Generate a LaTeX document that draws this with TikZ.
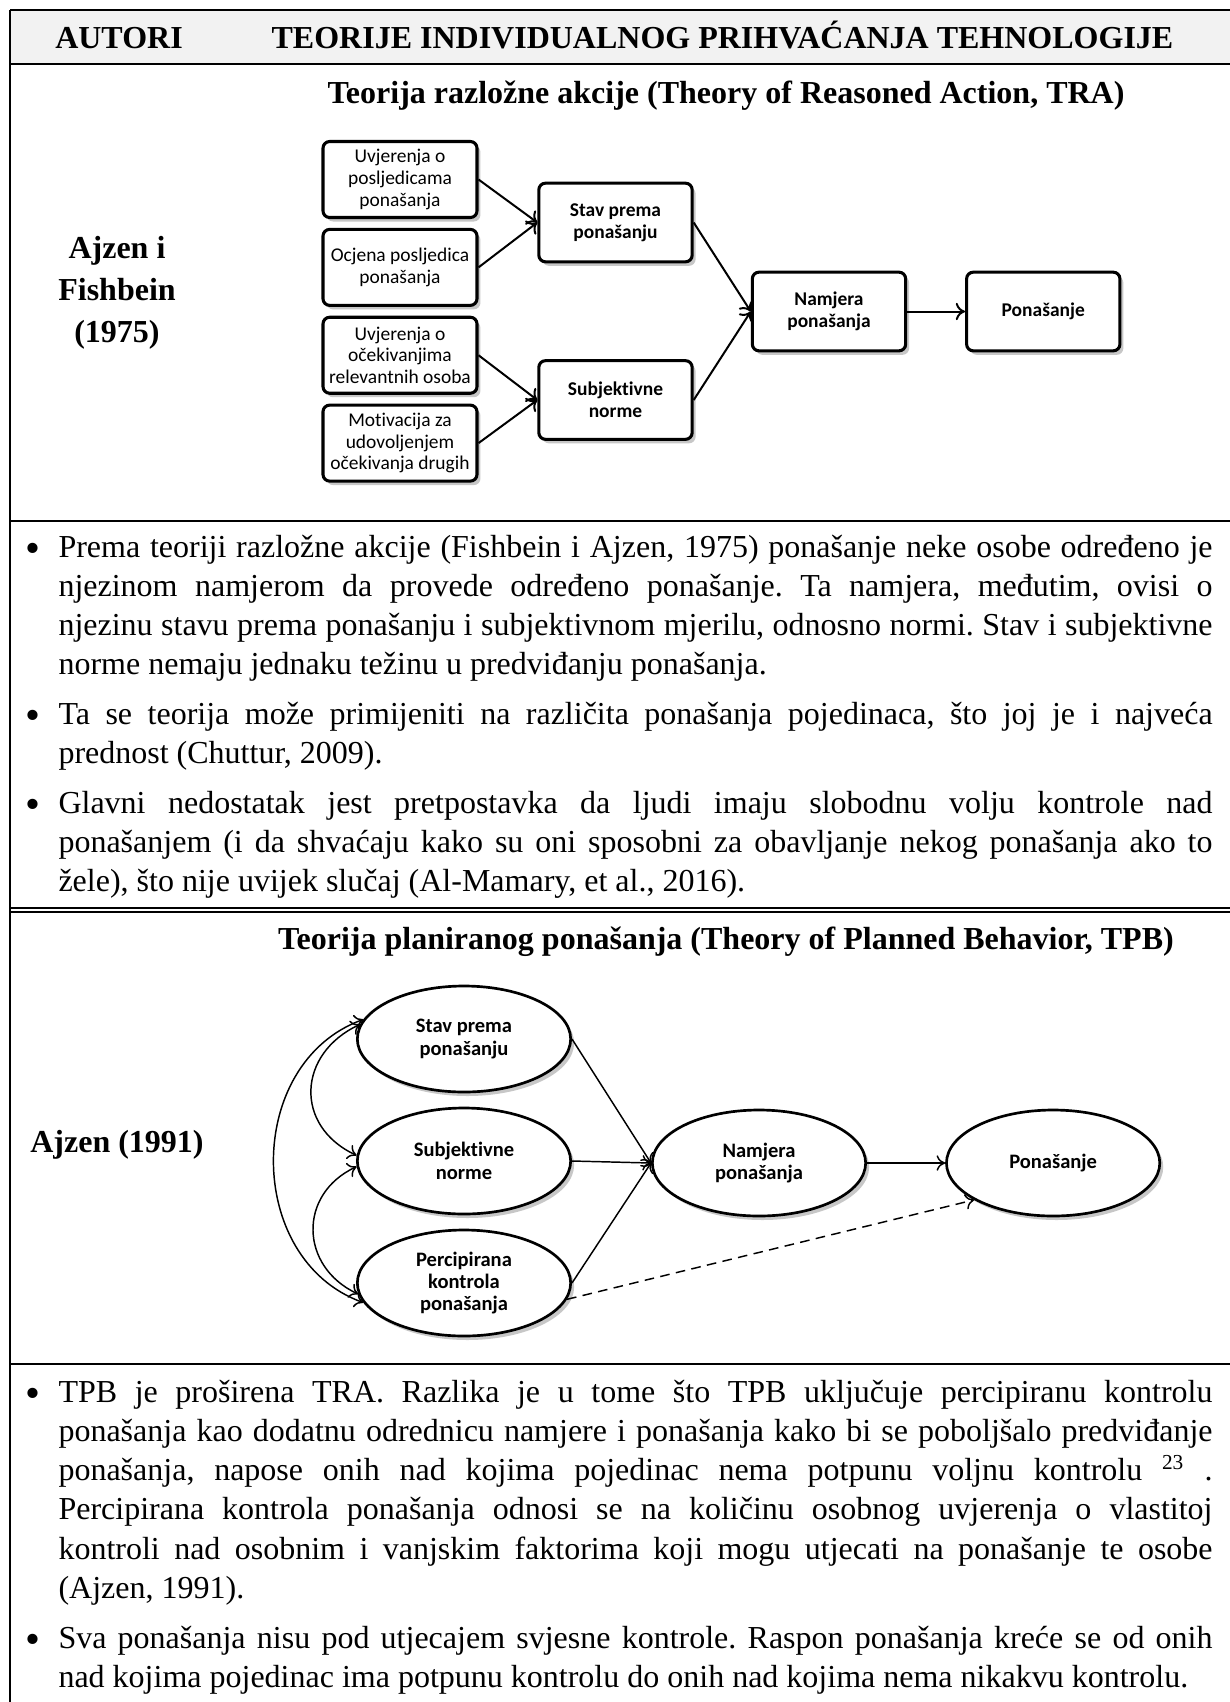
\documentclass[tikz,border=0pt]{standalone}
\usepackage{fontspec}
\setmainfont{Liberation Serif}
\newfontfamily\diagfont[Ligatures=NoCommon]{Carlito}
\frenchspacing
\usetikzlibrary{positioning,shapes.geometric,shadows,arrows.meta}
\definecolor{headgray}{HTML}{F2F2F2}
\tikzset{softshadow/.style={drop shadow={shadow xshift=1.3pt,shadow yshift=-1.5pt,fill=black,opacity=0.22}},
  trabox/.style={draw,line width=1.15pt,rounded corners=2.5pt,fill=white,minimum width=57.75pt,minimum height=28.5pt,inner sep=1pt,align=center,font=\diagfont\fontsize{7.3}{8.1}\selectfont,softshadow},
  trabold/.style={trabox,minimum width=57.5pt,minimum height=29.5pt,font=\diagfont\bfseries\fontsize{7.3}{8.1}\selectfont},
  tpbell/.style={ellipse,draw,line width=1pt,fill=white,minimum width=80pt,minimum height=39.75pt,inner sep=1pt,align=center,font=\diagfont\bfseries\fontsize{7.7}{8.4}\selectfont,softshadow},
  traarrow/.style={-{To[length=3.5pt,width=6.5pt]},line width=0.75pt},
  tpbarrow/.style={-{To[length=3.2pt,width=5.8pt]},line width=0.55pt},
  tpbboth/.style={{To[length=3.2pt,width=5.8pt]}-{To[length=3.2pt,width=5.8pt]},line width=0.55pt},
  bodytext/.style={anchor=base west,inner sep=0pt,text width=432.75pt,align=justify,font=\fontsize{12}{14.74}\selectfont},
  bulletmark/.style={anchor=base,inner sep=0pt,yshift=-2.2pt,font=\fontsize{16}{16}\selectfont},
  headtext/.style={anchor=base,inner sep=0pt,font=\bfseries\fontsize{12}{14}\selectfont},
  authtext/.style={inner sep=0pt,align=center,font=\bfseries\fontsize{12}{15.75}\selectfont}
}

\begin{document}
\begin{tikzpicture}[x=0.375pt,y=0.375pt]
  \useasboundingbox (0,0) rectangle (1230,-1702);

  % Table frame
  \fill[headgray] (10,-10) rectangle (1230,-64);
  \draw[line width=1.1pt] (10,-10) -- (1230,-10);
  \draw[line width=1.1pt] (10,-64) -- (1230,-64);
  \draw[line width=0.75pt] (10,-10) -- (10,-1702);
  \draw[line width=1.1pt] (10,-521) -- (1230,-521);
  \draw[line width=0.4pt] (10,-908) -- (1230,-908);
  \draw[line width=0.4pt] (10,-912) -- (1230,-912);
  \draw[line width=1.1pt] (10,-1364) -- (1230,-1364);

  % Header
  \node[headtext] (autori) at (119,-48) {AUTORI};
  \node[headtext] (teorije) at (722.5,-48) {TEORIJE INDIVIDUALNOG PRIHVAĆANJA TEHNOLOGIJE};

  % TRA
  \node[headtext] (tratitle) at (726,-103) {Teorija razložne akcije (Theory of Reasoned Action, TRA)};
  \node[authtext] (auth1) at (117,-293) {Ajzen i\\Fishbein\\(1975)};

    \node[trabox] (bel1) at (400,-179.5) {Uvjerenja o\\posljedicama\\ponašanja};
    \node[trabox, below = 3.3pt of bel1] (eval1) {Ocjena posljedica\\ponašanja};
    \node[trabox, below = 3.3pt of eval1] (bel2) {Uvjerenja o\\očekivanjima\\relevantnih osoba};
    \node[trabox, below = 3.3pt of bel2] (motiv) {Motivacija za\\udovoljenjem\\očekivanja drugih};

    \node[trabold] (att) at (615.5,-222.5) {Stav prema\\ponašanju};
    \node[trabold] (norm) at (615.5,-400) {Subjektivne\\norme};
    \node[trabold] (intent) at (829,-311.5) {Namjera\\ponašanja};
    \node[trabold, right = 21.7pt of intent] (behav) {Ponašanje};

    \draw[traarrow] (bel1.east) -- (att.west);
    \draw[traarrow] (eval1.east) -- (att.west);
    \draw[traarrow] (bel2.east) -- (norm.west);
    \draw[traarrow] (motiv.east) -- (norm.west);
    \draw[traarrow] (att.east) -- (intent.west);
    \draw[traarrow] (norm.east) -- (intent.west);
    \draw[traarrow] (intent.east) -- (behav.west);

  % TRA text
  \node[bulletmark] (dot1) at (33,-557) {•};
  \node[bodytext] (txt1) at (58,-557) {Prema teoriji razložne akcije (Fishbein i Ajzen, 1975) ponašanje neke osobe određeno je\linebreak njezinom namjerom da provede određeno ponašanje. Ta namjera, međutim, ovisi o\linebreak njezinu stavu prema ponašanju i subjektivnom mjerilu, odnosno normi. Stav i subjektivne\linebreak norme nemaju jednaku težinu u predviđanju ponašanja.};
  \node[bulletmark] (dot2) at (33,-724) {•};
  \node[bodytext] (txt2) at (58,-724) {Ta se teorija može primijeniti na različita ponašanja pojedinaca, što joj je i najveća\linebreak prednost (Chuttur, 2009).};
  \node[bulletmark] (dot3) at (33,-813) {•};
  \node[bodytext] (txt3) at (58,-813) {Glavni nedostatak jest pretpostavka da ljudi imaju slobodnu volju kontrole nad\linebreak ponašanjem (i da shvaćaju kako su oni sposobni za obavljanje nekog ponašanja ako to\linebreak žele), što nije uvijek slučaj (Al-Mamary, et al., 2016).};

  % TPB
  \node[headtext] (tpbtitle) at (726,-949) {Teorija planiranog ponašanja (Theory of Planned Behavior, TPB)};
  \node[headtext] (auth2) at (117,-1152) {Ajzen (1991)};

    \node[tpbell] (att2) at (464,-1039) {Stav prema\\ponašanju};
    \node[tpbell, below = 5pt of att2] (norm2) {Subjektivne\\norme};
    \node[tpbell, below = 5pt of norm2] (pbc) {Percipirana\\kontrola\\ponašanja};
    \node[tpbell] (intent2) at (759,-1163) {Namjera\\ponašanja};
    \node[tpbell, right = 29.3pt of intent2] (behav2) {Ponašanje};

    \draw[tpbarrow] (att2.east) -- (intent2.west);
    \draw[tpbarrow] (norm2.east) -- (intent2.west);
    \draw[tpbarrow] (pbc.east) -- (intent2.west);
    \draw[tpbarrow] (intent2.east) -- (behav2.west);
    \draw[tpbarrow, dash pattern=on 3.6pt off 2.4pt] (pbc.-9.5) -- (behav2.205);

    % correlations
    \draw[tpbboth] (att2.172) to[out=205, in=155, looseness=1.35] (norm2.177);
    \draw[tpbboth] (norm2.183) to[out=205, in=155, looseness=1.3] (pbc.186);
    \draw[tpbboth] (att2.169) to[out=200, in=160, looseness=1.15] (pbc.191);

  % TPB text
  \node[bulletmark] (dot4) at (33,-1402) {•};
  \node[bodytext] (txt4) at (58,-1402) {TPB je proširena TRA. Razlika je u tome što TPB uključuje percipiranu kontrolu\linebreak ponašanja kao dodatnu odrednicu namjere i ponašanja kako bi se poboljšalo predviđanje\linebreak ponašanja, napose onih nad kojima pojedinac nema potpunu voljnu kontrolu \textsuperscript{23} .\linebreak Percipirana kontrola ponašanja odnosi se na količinu osobnog uvjerenja o vlastitoj\linebreak kontroli nad osobnim i vanjskim faktorima koji mogu utjecati na ponašanje te osobe\linebreak (Ajzen, 1991).};
  \node[bulletmark] (dot5) at (33,-1648) {•};
  \node[bodytext] (txt5) at (58,-1648) {Sva ponašanja nisu pod utjecajem svjesne kontrole. Raspon ponašanja kreće se od onih\linebreak nad kojima pojedinac ima potpunu kontrolu do onih nad kojima nema nikakvu kontrolu.};

\end{tikzpicture}
\end{document}
